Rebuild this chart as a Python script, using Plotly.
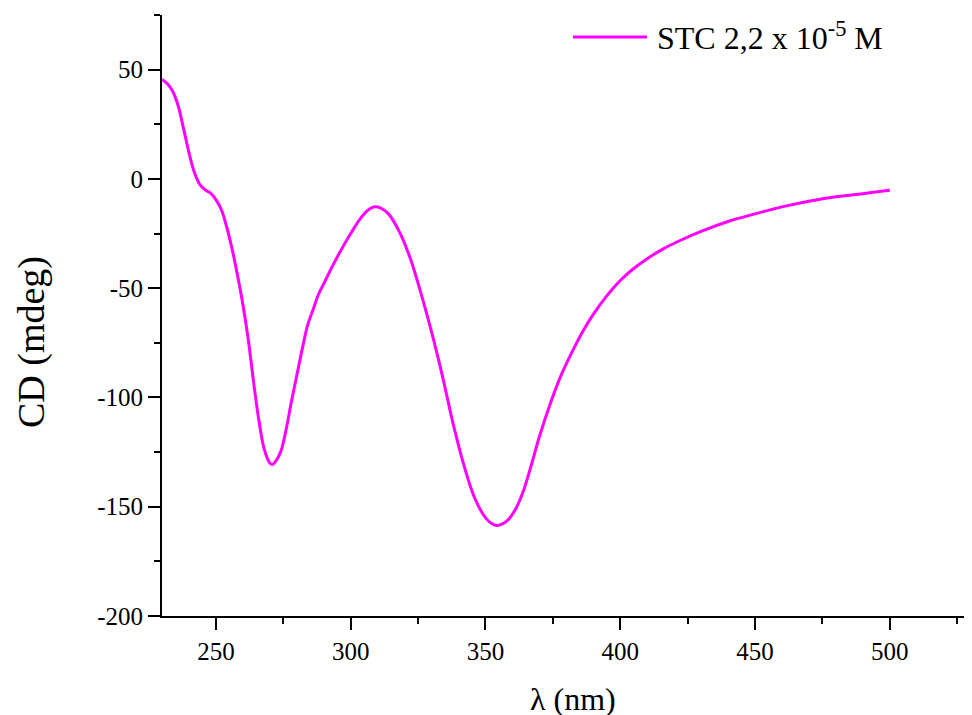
import plotly.graph_objects as go

wavelength = [230, 232, 234, 236, 238, 240, 242, 244, 246, 248, 250, 252, 254, 256, 258,
              260, 262, 264, 266, 268, 270, 271, 272, 274, 276, 278, 280, 282, 284, 286,
              288, 290, 293, 296, 300, 304, 307, 309, 311, 314, 318, 322, 326, 330, 334,
              338, 342, 346, 350, 353, 355, 358, 361, 364, 367, 370, 374, 378, 382, 386,
              390, 395, 400, 405, 410, 416, 422, 430, 440, 450, 460, 470, 480, 490, 500]
cd_mdeg = [45.5, 43.5, 40.0, 33.5, 23.0, 12.0, 3.0, -2.5, -5.0, -6.5, -9.5, -14.0, -22.0, -32.0, -44.0,
           -57.5, -73.5, -93.2, -111.0, -124.0, -130.0, -130.7, -129.5, -125.0, -115.0, -102.0, -90.0, -78.0, -67.0, -60.0,
           -53.0, -48.0, -40.5, -33.5, -25.0, -17.5, -13.8, -12.7, -13.3, -16.0, -24.0, -36.0, -52.0, -70.0, -90.0,
           -112.0, -131.0, -146.0, -155.0, -158.2, -158.5, -156.5, -151.5, -143.0, -131.0, -118.0, -103.0, -90.0, -79.5, -70.0,
           -62.0, -53.5, -46.5, -41.0, -36.5, -32.0, -28.3, -24.0, -19.5, -16.0, -12.8, -10.2, -8.2, -6.8, -5.2]

series_name = "STC 2,2 x 10<sup>-5</sup> M"
x_title = "λ (nm)"
y_title = "CD (mdeg)"
x_ticks = [250, 300, 350, 400, 450, 500]
y_ticks = [-200, -150, -100, -50, 0, 50]

COLOR = "#FF00FF"
FONT = "Liberation Serif"

fig = go.Figure()
fig.add_trace(go.Scatter(x=wavelength, y=cd_mdeg, mode="lines", name=series_name,
                         line=dict(color=COLOR, width=3, shape="spline", smoothing=1.0),
                         showlegend=False))

axis_common = dict(showline=True, linecolor="black", linewidth=2, ticks="outside",
                   ticklen=12, tickwidth=2, tickcolor="black", showgrid=False, zeroline=False,
                   tickfont=dict(family=FONT, size=25, color="black"))

fig.update_layout(
    width=964, height=707,
    margin=dict(l=154, r=0, t=7, b=99),
    plot_bgcolor="white", paper_bgcolor="white",
    xaxis=dict(range=[230, 530.5], tickvals=x_ticks, ticktext=[str(v) for v in x_ticks],
               minor=dict(ticks="outside", ticklen=6, tickwidth=2, tickcolor="black", dtick=25, tick0=0),
               **axis_common),
    yaxis=dict(range=[-200, 75], tickvals=y_ticks, ticktext=[str(v) for v in y_ticks],
               minor=dict(ticks="outside", ticklen=6, tickwidth=2, tickcolor="black", dtick=25, tick0=0),
               **axis_common),
)

# Legend drawn manually (long line sample as in the reference)
fig.add_shape(type="line", xref="paper", yref="paper", x0=0.5074, x1=0.5988, y0=0.9634, y1=0.9634,
              line=dict(color=COLOR, width=3))
fig.add_annotation(text=series_name, xref="paper", yref="paper", x=0.6086, y=0.9650,
                   xanchor="left", yanchor="middle", showarrow=False,
                   font=dict(family=FONT, size=32, color="black"))

fig.add_annotation(text=y_title, xref="paper", yref="paper", x=-0.1617, y=0.4559,
                   xanchor="center", yanchor="middle", textangle=-90, showarrow=False,
                   font=dict(family=FONT, size=38, color="black"))
fig.add_annotation(text=x_title, xref="paper", yref="paper", x=0.5074, y=-0.1380,
                   xanchor="center", yanchor="middle", showarrow=False,
                   font=dict(family=FONT, size=32, color="black"))

fig.write_html("out.html")
